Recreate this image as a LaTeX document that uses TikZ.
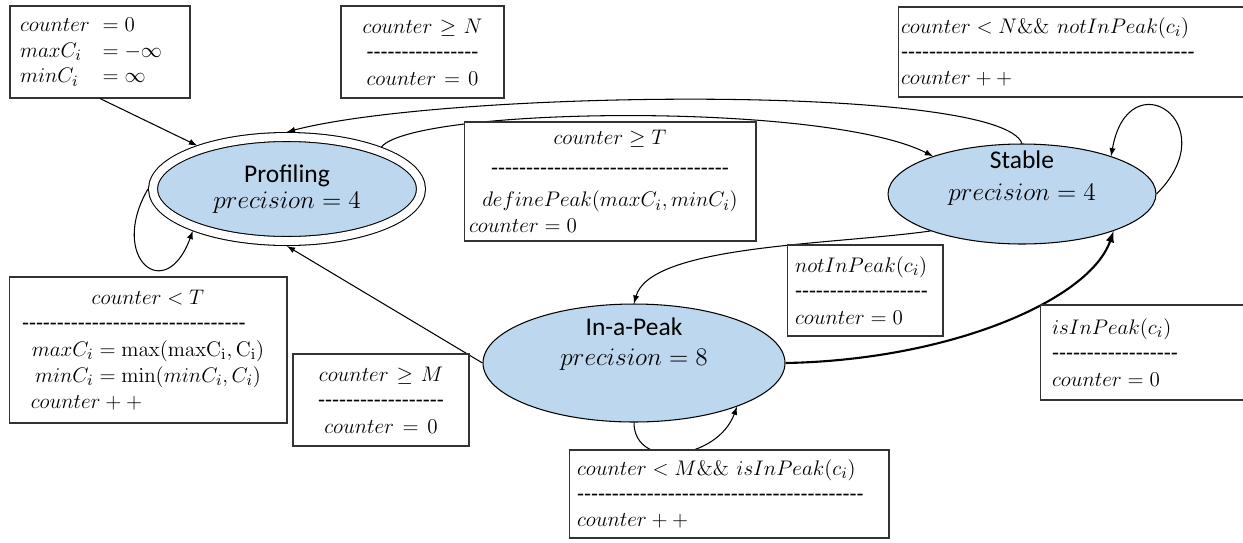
\documentclass[tikz,border=0pt]{standalone}
\usepackage{amsmath}
\usepackage[no-math]{fontspec}
\setmainfont{Carlito}
\usepackage{xcolor}
\usepackage{tikz}
\usetikzlibrary{shapes.geometric,arrows}
\usetikzlibrary{positioning}

\definecolor{stateblue}{HTML}{BDD7EE}
\newcommand\lblfont{\fontsize{13}{14.7}\selectfont}
\newcommand\statefont{\fontsize{14.5}{18}\selectfont}
\newcommand\dashrow[1]{\foreach\k in {1,...,#1}{-}}
\newcommand\ctrline[1]{\makebox[\linewidth]{#1}}

\tikzset{
    state/.style={ellipse, draw, fill=stateblue, inner sep=0pt, font=\statefont, align=center},
    lbl/.style={draw=black!80, fill=white, inner ysep=0pt, font=\lblfont}
}

\begin{document}
\begin{tikzpicture}[x=0.02cm, y=-0.02cm, line width=0.6pt, >=latex]
            \useasboundingbox (0,0) rectangle (1243,542);
            % states
            \node[state, double, double distance=4.5pt, outer sep=2.9pt, minimum width=5.36cm, minimum height=2.08cm] at (287,189) (prof) {Profiling\\[-3pt]$precision = 4$};
            \node[state, inner ysep=-6pt, text depth=21pt, minimum width=5.36cm, minimum height=2.0cm] at (1022,194) (stable) {Stable\\$precision = 4$};
            \node[state, inner ysep=-6pt, text depth=24pt, minimum width=6.04cm, minimum height=2.36cm] at (634,363) (peak) {In-a-Peak\\[-1pt]$precision = 8$};
            % transitions
            \draw[->] (stable.north) .. controls +(-22,-60) and +(160,-42) .. (prof.north);
            \draw[->] (prof.24) .. controls +(33,-40) and +(-108,-55) .. (stable.157);
            \draw[->] (prof.180) .. controls +(-40,69) and +(-27,75) .. (prof.204);
            \draw[->] (stable.202) .. controls (830,245) and (650,245) .. (peak.north);
            \draw[->, line width=1.2pt] (peak.east) .. controls (950,360) and (1090,300) .. (stable.338);
            \draw[->] (peak.west) -- (prof.south);
            \draw[->] (peak.south) .. controls +(0,48) and +(-19,53) .. (peak.337);
            \draw[->] (stable.east) .. controls +(71,-71) and +(17,-98) .. (stable.23);
            % guards
            \node[lbl, text width=3.2cm, inner xsep=0.2cm, minimum height=1.84cm, align=left] at (100,52) (init) {\begin{tabular}{@{}l@{\hspace{4pt}}l@{}}$counter$ & ${}=0$\\ $maxC_i$ & ${}=-\infty$\\ $minC_i$ & ${}=\infty$\end{tabular}};
            \draw[->] (init.south) -- (prof);
            \node[lbl, text width=2.86cm, inner xsep=0.2cm, minimum height=1.84cm, align=center] at (422.5,52) (guardN) {$counter \geq N$\\\dashrow{16}\\$counter = 0$};
            \node[lbl, text width=5.64cm, inner xsep=0.1cm, minimum height=2.38cm, align=left] at (610,181.5) (guardT) {\ctrline{$counter \geq T$}\\[3pt]\ctrline{\dashrow{34}}\\[3pt]\ctrline{$definePeak(maxC_i,minC_i)$}\\$counter = 0$};
            \node[lbl, text width=6.84cm, inner xsep=0.06cm, minimum height=1.8cm, align=left] at (1072,52) (stayN) {$counter < N\&\&\ notInPeak(c_i)$\\\dashrow{42}\\$counter + {+}$};
            \node[lbl, text width=5.04cm, inner xsep=0.26cm, minimum height=2.92cm, align=left] at (148,350) (stayT) {\ctrline{$counter < T$}\\\dashrow{32}\\\ctrline{$maxC_i = \max(\mathrm{maxC_i},\mathrm{C_i})$}\\\ctrline{$minC_i = \min(minC_i,C_i)$}\\\hspace*{5pt}$counter + {+}$};
            \node[lbl, text width=3.12cm, inner xsep=0.2cm, minimum height=1.84cm, align=center] at (381,400) (guardM) {$counter \geq M$\\\dashrow{18}\\$counter = 0$};
            \node[lbl, text width=6.08cm, inner xsep=0.16cm, minimum height=1.76cm, align=left] at (729,494) (stayM) {$counter < M\&\&\ isInPeak(c_i)$\\\dashrow{41}\\$counter + {+}$};
            \node[lbl, text width=2.8cm, inner xsep=0.16cm, minimum height=1.82cm, align=left] at (865,290.5) (leave) {$notInPeak(c_i)$\\\dashrow{19}\\$counter = 0$};
            \node[lbl, text width=3.64cm, inner xsep=0.24cm, minimum height=1.9cm, align=left] at (1143,352.5) (enter) {$isInPeak(c_i)$\\\dashrow{18}\\$counter = 0$};
        \end{tikzpicture}
\end{document}
